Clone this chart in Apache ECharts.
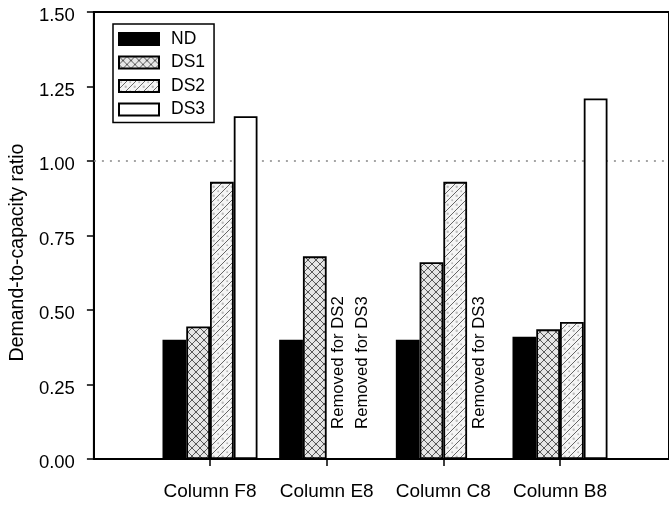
<!DOCTYPE html>
<html>
<head>
<meta charset="utf-8">
<script src="https://cdn.jsdelivr.net/npm/echarts@6/dist/echarts.min.js"></script>
<style>
  html, body { margin: 0; padding: 0; background: #fff; }
  #chart { width: 669px; height: 506px; }
</style>
</head>
<body>
<div id="chart"></div>
<script>
// Demand-to-capacity ratios per column and damage state
const categories = ['Column F8', 'Column E8', 'Column C8', 'Column B8'];
const seriesNames = ['ND', 'DS1', 'DS2', 'DS3'];
const ndValues  = [0.40, 0.40, 0.40, 0.41];
const ds1Values = [0.445, 0.68, 0.66, 0.435];
const ds2Values = [0.93, null, 0.93, 0.46];
const ds3Values = [1.15, null, null, 1.21];
// notes shown in place of bars for members removed at that damage state
const ds2Notes = ['', 'Removed for DS2', '', ''];
const ds3Notes = ['', 'Removed for DS3', 'Removed for DS3', ''];
// value axis
const yMin = 0, yMax = 1.5, yStep = 0.25;
const capacityLimit = 1.0;

const FONT = "'Liberation Sans', Arial, Helvetica, sans-serif";

// hatch fills
function makeTile(size, draw) {
  const c = document.createElement('canvas');
  c.width = size; c.height = size;
  const ctx = c.getContext('2d');
  draw(ctx, size);
  return c;
}
const crossTile = makeTile(8, (ctx, s) => {
  ctx.fillStyle = '#e6e6e6';
  ctx.fillRect(0, 0, s, s);
  ctx.fillStyle = '#cfcfcf';
  ctx.beginPath(); ctx.arc(s / 2, s / 2, 1.6, 0, Math.PI * 2); ctx.fill();
  ctx.strokeStyle = '#4a4a4a';
  ctx.lineWidth = 0.9;
  ctx.beginPath();
  ctx.moveTo(0, 0); ctx.lineTo(s, s);
  ctx.moveTo(0, s); ctx.lineTo(s, 0);
  ctx.stroke();
});
const slashTile = makeTile(9, (ctx, s) => {
  ctx.fillStyle = '#f5f5f5';
  ctx.fillRect(0, 0, s, s);
  ctx.strokeStyle = '#555';
  ctx.lineWidth = 0.9;
  ctx.beginPath();
  ctx.moveTo(0, s); ctx.lineTo(s, 0);
  ctx.moveTo(-s / 2, s / 2); ctx.lineTo(s / 2, -s / 2);
  ctx.moveTo(s / 2, s * 1.5); ctx.lineTo(s * 1.5, s / 2);
  ctx.stroke();
  ctx.fillStyle = '#bdbdbd';
  ctx.beginPath(); ctx.arc(s / 2 + 2.2, s / 2 + 2.2, 1.2, 0, Math.PI * 2); ctx.fill();
  ctx.beginPath(); ctx.arc(2.2, 2.2, 1.0, 0, Math.PI * 2); ctx.fill();
});

function barData(values, notes) {
  return values.map((v, i) => v === null
    ? { value: 0, label: { show: true, formatter: notes[i] } }
    : v);
}

const barBase = {
  type: 'bar',
  xAxisIndex: 0,
  yAxisIndex: 0,
  barWidth: 23.75,
  barGap: '0%',
  z: 3,
  label: {
    show: false,
    rotate: 90,
    position: 'insideBottom',
    align: 'left',
    verticalAlign: 'middle',
    distance: 31,
    fontSize: 16.7,
    fontFamily: FONT,
    color: '#000'
  }
};

const fills = [
  '#000',
  { image: crossTile, repeat: 'repeat' },
  { image: slashTile, repeat: 'repeat' },
  '#fff'
];
const valueSets = [ndValues, ds1Values, ds2Values, ds3Values];
const noteSets = [null, null, ds2Notes, ds3Notes];

const barSeries = seriesNames.map((name, i) => Object.assign({}, barBase, {
  name: name,
  data: noteSets[i] ? barData(valueSets[i], noteSets[i]) : valueSets[i],
  itemStyle: { color: fills[i], borderColor: '#000', borderWidth: 1.8 }
}));

const chart = echarts.init(document.getElementById('chart'), null, { renderer: 'canvas' });
chart.setOption({
  animation: false,
  backgroundColor: '#fff',
  grid: [
    { left: 151.67, right: 50.67, top: 12, bottom: 47, containLabel: false },
    { left: 92, right: -20, top: 12, bottom: 47, show: true,
      borderColor: '#000', borderWidth: 2, backgroundColor: 'transparent' }
  ],
  xAxis: [
    {
      gridIndex: 0,
      type: 'category',
      data: categories,
      axisLine: { show: true, lineStyle: { color: '#000', width: 2 } },
      axisTick: { show: true, interval: 0, alignWithLabel: true, length: 7, lineStyle: { color: '#000', width: 1.5 } },
      axisLabel: { color: '#000', fontSize: 19, fontFamily: FONT, margin: 23, interval: 0 },
      splitLine: { show: false }
    },
    { gridIndex: 1, type: 'value', min: 0, max: 1, show: false }
  ],
  yAxis: [
    { gridIndex: 0, type: 'value', min: yMin, max: yMax, interval: yStep, show: false },
    {
      gridIndex: 1,
      type: 'value',
      min: yMin, max: yMax, interval: yStep,
      name: 'Demand-to-capacity ratio',
      nameLocation: 'middle',
      nameGap: 53,
      nameTextStyle: { color: '#000', fontSize: 19.5, fontFamily: FONT, padding: [0, 34, 0, 0] },
      axisLine: { show: true, lineStyle: { color: '#000', width: 2 } },
      axisTick: { show: true, length: 7, lineStyle: { color: '#000', width: 1.5 } },
      axisLabel: {
        color: '#000', fontSize: 18.5, fontFamily: FONT, margin: 19,
        formatter: v => '{v|' + v.toFixed(2) + '}',
        rich: { v: { color: '#000', fontSize: 18.5, fontFamily: FONT, padding: [8, 0, 0, 0] } }
      },
      splitLine: { show: false }
    }
  ],
  legend: {
    orient: 'vertical',
    left: 113,
    top: 24,
    padding: [6, 9, 4, 5],
    itemWidth: 40,
    itemHeight: 12,
    itemGap: 5.5,
    icon: 'rect',
    borderColor: '#000',
    borderWidth: 1.5,
    backgroundColor: '#fff',
    data: seriesNames,
    textStyle: { color: '#000', fontSize: 17.5, fontFamily: FONT, lineHeight: 18, padding: [0, 0, 0, 7] }
  },
  series: [
    {
      name: 'capacity limit',
      type: 'line',
      xAxisIndex: 1,
      yAxisIndex: 1,
      data: [[0, capacityLimit], [1, capacityLimit]],
      symbol: 'none',
      silent: true,
      z: 1,
      lineStyle: { color: '#888', width: 1.5, type: [2, 6] }
    }
  ].concat(barSeries)
});
</script>
</body>
</html>
